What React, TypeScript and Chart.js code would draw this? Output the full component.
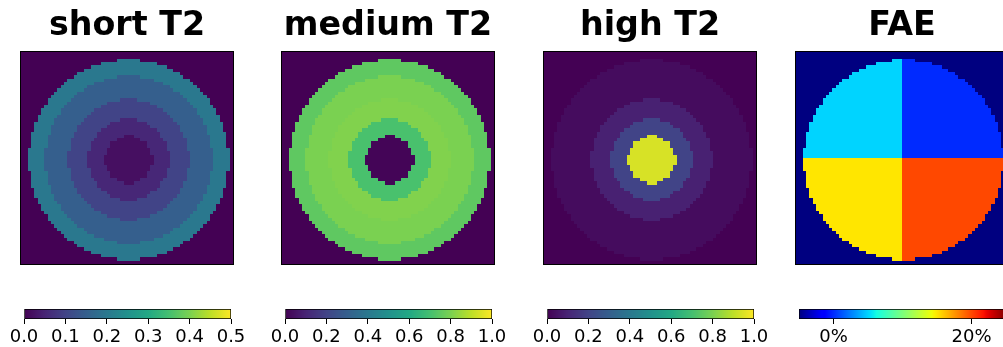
import React, { useEffect, useRef } from 'react';
import { Chart, registerables } from 'chart.js';

Chart.register(...registerables);

// ---------------- data ----------------
const GRID_SIZE = 64; // image is 64 x 64 cells
const CENTER = 32; // centre cell index
const RING_RADII = [7.1, 12.2, 18.2, 25.2, 30.2]; // outer radius of each ring (cells)
const SHORT_T2_RINGS = [0.02, 0.055, 0.1, 0.15, 0.2];
const MEDIUM_T2_RINGS = [0.01, 0.71, 0.81, 0.8, 0.75];
const HIGH_T2_RINGS = [0.94, 0.2, 0.09, 0.03, 0.03];
const T2_BACKGROUND = 0;
const FAE_QUADRANTS = [5, 0, 15, 20]; // % : top-left, top-right, bottom-left, bottom-right
const FAE_BACKGROUND = -5;

const TITLES = ['short T2', 'medium T2', 'high T2', 'FAE'];
const SHORT_TICKS = [0, 0.1, 0.2, 0.3, 0.4, 0.5];
const FRACTION_TICKS = [0, 0.2, 0.4, 0.6, 0.8, 1.0];
const FAE_TICKS = [0, 20];
const SHORT_RANGE = [0, 0.5];
const FRACTION_RANGE = [0, 1];
const FAE_RANGE = [-5, 25];

// ---------------- layout ----------------
const AXES_LEFT = [21, 282, 544, 796];
const AXES_TOP = 52;
const AXES_SIZE = 212;
const CB_TOP = 309;
const CB_HEIGHT = 10;
const CB_WIDTH = 207;
const SIDE_PAD = 30;
const FONT = 'DejaVu Sans';
const TITLE_PAD_TOP = 6;
const TICK_FONT_SIZE = 18;

// ---------------- colormaps ----------------
const VIRIDIS = ['#440154', '#482475', '#414487', '#355f8d', '#2a788e', '#21918c', '#22a884', '#44bf70', '#7ad151', '#bddf26', '#fde725'];
function hexToRgb(h: string) {
  return [parseInt(h.slice(1, 3), 16), parseInt(h.slice(3, 5), 16), parseInt(h.slice(5, 7), 16)];
}
const VIRIDIS_RGB = VIRIDIS.map(hexToRgb);
function viridis(t: number) {
  t = Math.max(0, Math.min(1, t));
  const p = t * (VIRIDIS_RGB.length - 1);
  const i = Math.min(Math.floor(p), VIRIDIS_RGB.length - 2);
  const f = p - i;
  const a = VIRIDIS_RGB[i], b = VIRIDIS_RGB[i + 1];
  return `rgb(${Math.round(a[0] + (b[0] - a[0]) * f)},${Math.round(a[1] + (b[1] - a[1]) * f)},${Math.round(a[2] + (b[2] - a[2]) * f)})`;
}
function seg(t: number, pts: number[][]) {
  for (let i = 0; i < pts.length - 1; i++) {
    const [x0, y0] = pts[i], [x1, y1] = pts[i + 1];
    if (t >= x0 && t <= x1) return y0 + (y1 - y0) * (x1 === x0 ? 0 : (t - x0) / (x1 - x0));
  }
  return pts[pts.length - 1][1];
}
const JET_R = [[0, 0], [0.35, 0], [0.66, 1], [0.89, 1], [1, 0.5]];
const JET_G = [[0, 0], [0.125, 0], [0.375, 1], [0.64, 1], [0.91, 0], [1, 0]];
const JET_B = [[0, 0.5], [0.11, 1], [0.34, 1], [0.65, 0], [1, 0]];
function jet(t: number) {
  t = Math.max(0, Math.min(1, t));
  return `rgb(${Math.round(255 * seg(t, JET_R))},${Math.round(255 * seg(t, JET_G))},${Math.round(255 * seg(t, JET_B))})`;
}
const CMAPS: Record<string, (t: number) => string> = { viridis, jet };

// ---------------- cells ----------------
function ringCells(values: number[]) {
  const pts: { x: number; y: number; v: number }[] = [];
  for (let row = 0; row < GRID_SIZE; row++) {
    for (let col = 0; col < GRID_SIZE; col++) {
      const d = Math.hypot(col - CENTER, row - CENTER);
      const k = RING_RADII.findIndex((r) => d <= r);
      pts.push({ x: col + 0.5, y: row + 0.5, v: k < 0 ? T2_BACKGROUND : values[k] });
    }
  }
  return pts;
}
function quadrantCells() {
  const pts: { x: number; y: number; v: number }[] = [];
  const outer = RING_RADII[RING_RADII.length - 1];
  for (let row = 0; row < GRID_SIZE; row++) {
    for (let col = 0; col < GRID_SIZE; col++) {
      const d = Math.hypot(col - CENTER, row - CENTER);
      const q = (row < CENTER ? 0 : 2) + (col < CENTER ? 0 : 1);
      pts.push({ x: col + 0.5, y: row + 0.5, v: d <= outer ? FAE_QUADRANTS[q] : FAE_BACKGROUND });
    }
  }
  return pts;
}

const PANELS = [
  { title: TITLES[0], cells: () => ringCells(SHORT_T2_RINGS), cmap: 'viridis', range: SHORT_RANGE, ticks: SHORT_TICKS, fmt: (v: number) => v.toFixed(1) },
  { title: TITLES[1], cells: () => ringCells(MEDIUM_T2_RINGS), cmap: 'viridis', range: FRACTION_RANGE, ticks: FRACTION_TICKS, fmt: (v: number) => v.toFixed(1) },
  { title: TITLES[2], cells: () => ringCells(HIGH_T2_RINGS), cmap: 'viridis', range: FRACTION_RANGE, ticks: FRACTION_TICKS, fmt: (v: number) => v.toFixed(1) },
  { title: TITLES[3], cells: quadrantCells, cmap: 'jet', range: FAE_RANGE, ticks: FAE_TICKS, fmt: (v: number) => `${v}%` },
];

const heatmapPlugin = {
  id: 'heatmapCells',
  beforeDatasetsDraw(chart: any) {
    const { ctx, chartArea, scales } = chart;
    const xs = scales.x, ys = scales.y;
    const ds = chart.data.datasets[0];
    const cmap = CMAPS[ds.cmap];
    const [vmin, vmax] = ds.range;
    ctx.save();
    for (const p of ds.data) {
      const x0 = Math.round(xs.getPixelForValue(p.x - 0.5));
      const x1 = Math.round(xs.getPixelForValue(p.x + 0.5));
      const y0 = Math.round(ys.getPixelForValue(p.y - 0.5));
      const y1 = Math.round(ys.getPixelForValue(p.y + 0.5));
      ctx.fillStyle = cmap((p.v - vmin) / (vmax - vmin));
      ctx.fillRect(Math.min(x0, x1), Math.min(y0, y1), Math.abs(x1 - x0), Math.abs(y1 - y0));
    }
    ctx.strokeStyle = '#000';
    ctx.lineWidth = 1;
    ctx.strokeRect(Math.round(chartArea.left) - 0.5, Math.round(chartArea.top) - 0.5, Math.round(chartArea.width) + 1, Math.round(chartArea.height) + 1);
    ctx.restore();
  },
};

function gradientFor(chart: any, cmapName: string) {
  const area = chart.chartArea;
  const cmap = CMAPS[cmapName];
  if (!area) return cmap(0.5);
  const g = chart.ctx.createLinearGradient(area.left, 0, area.right, 0);
  const n = 64;
  for (let i = 0; i <= n; i++) g.addColorStop(i / n, cmap(i / n));
  return g;
}

const HM_W = AXES_SIZE + 2 * SIDE_PAD;
const HM_H = AXES_TOP + AXES_SIZE + 4;
const CB_W = CB_WIDTH + 2 * SIDE_PAD;
const CB_CANVAS_TOP = 300;
const CB_H = 47;
const CB_AXIS_H = CB_H - (CB_TOP - CB_CANVAS_TOP) - CB_HEIGHT;

export default function App() {
  const hmRefs = useRef<(HTMLCanvasElement | null)[]>([]);
  const cbRefs = useRef<(HTMLCanvasElement | null)[]>([]);

  useEffect(() => {
    const charts: Chart[] = [];
    PANELS.forEach((panel, i) => {
      const hm = hmRefs.current[i];
      const cb = cbRefs.current[i];
      if (hm) {
        charts.push(
          new Chart(hm, {
            type: 'scatter',
            data: {
              datasets: [
                {
                  data: panel.cells(),
                  pointRadius: 0,
                  cmap: panel.cmap,
                  range: panel.range,
                } as any,
              ],
            },
            options: {
              responsive: false,
              animation: false,
              devicePixelRatio: 1,
              events: [],
              layout: { padding: { left: SIDE_PAD, right: SIDE_PAD, top: 0, bottom: HM_H - AXES_TOP - AXES_SIZE } },
              plugins: {
                legend: { display: false },
                tooltip: { enabled: false },
                title: {
                  display: true,
                  text: panel.title,
                  color: '#000',
                  font: { family: FONT, size: 33.3, weight: 'bold', lineHeight: 1.2 },
                  padding: { top: TITLE_PAD_TOP, bottom: AXES_TOP - TITLE_PAD_TOP - 33.3 * 1.2 },
                },
              },
              scales: {
                x: { type: 'linear', min: 0, max: GRID_SIZE, display: false },
                y: { type: 'linear', min: 0, max: GRID_SIZE, reverse: true, display: false },
              },
            },
            plugins: [heatmapPlugin],
          } as any)
        );
      }
      if (cb) {
        charts.push(
          new Chart(cb, {
            type: 'bar',
            data: {
              labels: [''],
              datasets: [
                {
                  data: [[panel.range[0], panel.range[1]]],
                  backgroundColor: (c: any) => gradientFor(c.chart, panel.cmap),
                  borderColor: '#000',
                  borderWidth: 1,
                  borderSkipped: false,
                  barPercentage: 1,
                  categoryPercentage: 1,
                } as any,
              ],
            },
            options: {
              indexAxis: 'y',
              responsive: false,
              animation: false,
              devicePixelRatio: 1,
              events: [],
              layout: { padding: { left: SIDE_PAD, right: SIDE_PAD, top: CB_TOP - CB_CANVAS_TOP, bottom: 0 } },
              plugins: { legend: { display: false }, tooltip: { enabled: false }, title: { display: false } },
              scales: {
                x: {
                  type: 'linear',
                  min: panel.range[0],
                  max: panel.range[1],
                  afterBuildTicks: (s: any) => {
                    s.ticks = panel.ticks.map((v) => ({ value: v }));
                  },
                  afterFit: (s: any) => {
                    s.height = CB_AXIS_H;
                  },
                  grid: { drawOnChartArea: false, drawTicks: true, tickLength: 5, color: '#000', lineWidth: 1 },
                  border: { display: false },
                  ticks: {
                    color: '#000',
                    font: { family: FONT, size: TICK_FONT_SIZE },
                    padding: 3,
                    maxRotation: 0,
                    autoSkip: false,
                    callback: (v: any) => panel.fmt(Number(v)),
                  },
                },
                y: { display: false },
              },
            },
          } as any)
        );
      }
    });
    return () => charts.forEach((c) => c.destroy());
  }, []);

  return (
    <div style={{ position: 'absolute', left: 0, top: 0, width: 1003, height: 347, overflow: 'hidden', background: '#fff' }}>
      {PANELS.map((p, i) => (
        <canvas
          key={'hm' + i}
          ref={(el) => {
            hmRefs.current[i] = el;
          }}
          width={HM_W}
          height={HM_H}
          style={{ position: 'absolute', left: AXES_LEFT[i] - SIDE_PAD, top: 0, width: HM_W, height: HM_H }}
        />
      ))}
      {PANELS.map((p, i) => (
        <canvas
          key={'cb' + i}
          ref={(el) => {
            cbRefs.current[i] = el;
          }}
          width={CB_W}
          height={CB_H}
          style={{
            position: 'absolute',
            left: Math.round(AXES_LEFT[i] + AXES_SIZE / 2 - CB_WIDTH / 2) - SIDE_PAD,
            top: CB_CANVAS_TOP,
            width: CB_W,
            height: CB_H,
          }}
        />
      ))}
    </div>
  );
}
